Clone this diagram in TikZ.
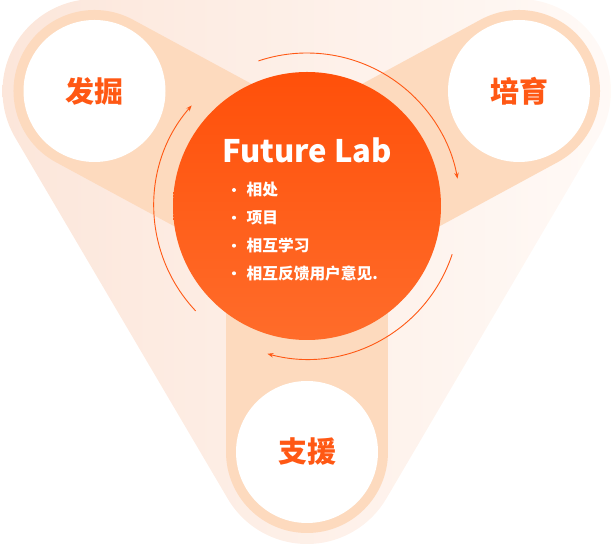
\documentclass[tikz,border=0pt]{standalone}
\usepackage{fontspec}
\newfontfamily\cjk{Noto Sans CJK SC}
\usetikzlibrary{arrows.meta,calc}
\definecolor{peach}{RGB}{253,218,190}
\definecolor{hullL}{RGB}{252,230,218}
\definecolor{hullR}{RGB}{255,250,247}
\definecolor{accent}{RGB}{255,88,20}
\definecolor{coreTop}{RGB}{255,80,10}
\definecolor{coreBot}{RGB}{255,108,42}
\begin{document}
\begin{tikzpicture}[x=1pt,y=1pt,font=\cjk,
  ring/.style={circle, fill=white, minimum size=142pt, inner sep=0pt, text=accent, font=\cjk\bfseries\fontsize{29}{32}\selectfont},
  band/.style={draw=peach, line width=162pt, line cap=round},
  flow/.style={draw=accent, line width=0.9pt, -{Stealth[length=6pt,width=4.5pt]}},
  item/.style={anchor=west, text=white, inner sep=0pt, font=\cjk\bfseries\fontsize{15.7}{18}\selectfont},
  dot/.style={circle, fill=white, minimum size=4pt, inner sep=0pt}]
\useasboundingbox (0,0) rectangle (614,546);
\coordinate (A) at (94.5,455);
\coordinate (B) at (519,455);
\coordinate (C) at (307,94);
\coordinate (O) at (307,340);
% rounded triangle hull
\shade[left color=hullL,right color=hullR]
  ($(A)+(90:92)$) arc[start angle=90,end angle=210.4,radius=92]
  -- ($(C)+(210.4:92)$) arc[start angle=210.4,end angle=329.6,radius=92]
  -- ($(B)+(-30.4:92)$) arc[start angle=-30.4,end angle=90,radius=92]
  -- cycle;
% bands
\draw[band] (A) -- (O);
\draw[band] (B) -- (O);
\draw[band] (C) -- (O);
% outer circles
\node[ring] (fa) at (A) {发掘};
\node[ring] (pei) at (B) {培育};
\node[ring] (zhi) at (C) {支援};
% core
\node[circle, minimum size=268pt, inner sep=0pt, top color=coreTop, bottom color=coreBot] (core) at (O) {};
% flow arcs
\draw[flow] ($(O)+(108.5:153)$) arc[start angle=108.5,end angle=10.3,radius=153];
\draw[flow] ($(O)+(-18.4:153)$) arc[start angle=-18.4,end angle=-105,radius=153];
\draw[flow] ($(O)+(223.3:153)$) arc[start angle=223.3,end angle=138.9,radius=153];
% texts
\node[anchor=base, text=white, inner sep=0pt, font=\cjk\bfseries\fontsize{31}{36}\selectfont] (title) at (307,383) {Future Lab};
\node[dot] (d1) at (234,356) {};
\node[dot] (d2) at (234,328.3) {};
\node[dot] (d3) at (234,300.3) {};
\node[dot] (d4) at (234,272.7) {};
\node[item] (i1) at (246.5,356) {相处};
\node[item] (i2) at (246.5,328.3) {项目};
\node[item] (i3) at (246.5,300.3) {相互学习};
\node[item] (i4) at (246.5,272.7) {相互反馈用户意见.};
\end{tikzpicture}
\end{document}
